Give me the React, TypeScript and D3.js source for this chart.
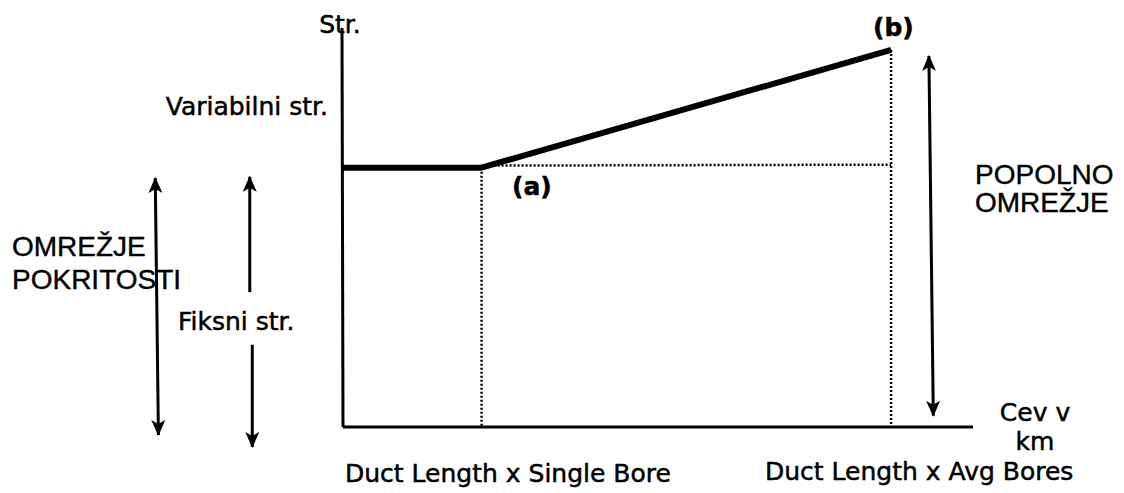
import React from 'react';
import * as d3 from 'd3';

const W = 1124;
const H = 493;

// cost curve: cable length (arbitrary units, 0-100) vs cost (0-100)
const curveX = [0, 22, 87];
const curveY = [65, 65, 94.5];
const fixedCost = 65;

// reference points on the length axis
const refX = [22, 87];
const refLabels = ['Duct Length x Single Bore', 'Duct Length x Avg Bores'];
const pointLabels = ['(a)', '(b)'];

// double arrows (annotations) in data units: x top, x bottom, y top, y bottom
const arrowXTop = [-29.8, -14.8, 93];
const arrowXBottom = [-29.3, -14.4, 93.7];
const arrowYTop = [62.4, 62.7, 93];
const arrowYBottom = [-2, -5, 2.8];
// gap in the "Fiksni" arrow where its label sits
const fixedGap = [33.8, 20.6];

const sans = 'DejaVu Sans, Verdana, sans-serif';
const arial = 'Liberation Sans, Arial, sans-serif';

export default function App() {
  const x = d3.scaleLinear().domain([0, 100]).range([343, 973]);
  const y = d3.scaleLinear().domain([0, 100]).range([427, 28]);

  const line = d3.line<number>()
    .x((d, i) => x(curveX[i]))
    .y(d => y(d));

  return (
    <svg width={W} height={H} style={{ position: 'absolute', left: 0, top: 0, background: '#fff' }}>
      <defs>
        <marker id="ah" viewBox="0 0 16 14" refX="15" refY="7" markerWidth="16" markerHeight="14"
          markerUnits="userSpaceOnUse" orient="auto-start-reverse">
          <path d="M0,0 L16,7 L0,14 L4,7 Z" fill="#000" />
        </marker>
      </defs>

      {/* axes */}
      <line x1={x(0) - 1} y1={y(100)} x2={x(0)} y2={y(0)} stroke="#000" strokeWidth={3} />
      <line x1={x(0)} y1={y(0)} x2={x(100)} y2={y(0)} stroke="#000" strokeWidth={3} />

      {/* dotted guides */}
      {refX.map((v, i) => (
        <line key={'v' + i} x1={x(v)} x2={x(v)} y1={y(curveY[i + 1])} y2={y(0)}
          stroke="#000" strokeWidth={2.5} strokeDasharray="2 2" />
      ))}
      <line x1={x(refX[0])} x2={x(refX[1])} y1={y(fixedCost) - 2} y2={y(fixedCost) - 3}
        stroke="#000" strokeWidth={2.5} strokeDasharray="2 2" />

      {/* cost curve */}
      <path d={line(curveY) || ''} fill="none" stroke="#000" strokeWidth={6} strokeLinejoin="round" />

      {/* double arrows */}
      <line x1={x(arrowXTop[0])} y1={y(arrowYTop[0])} x2={x(arrowXBottom[0])} y2={y(arrowYBottom[0])}
        stroke="#000" strokeWidth={3} markerStart="url(#ah)" markerEnd="url(#ah)" />
      <line x1={x(arrowXTop[1])} y1={y(arrowYTop[1])} x2={x(arrowXTop[1])} y2={y(fixedGap[0])}
        stroke="#000" strokeWidth={3} markerStart="url(#ah)" />
      <line x1={x(arrowXBottom[1])} y1={y(fixedGap[1])} x2={x(arrowXBottom[1])} y2={y(arrowYBottom[1])}
        stroke="#000" strokeWidth={3} markerEnd="url(#ah)" />
      <line x1={x(arrowXTop[2])} y1={y(arrowYTop[2])} x2={x(arrowXBottom[2])} y2={y(arrowYBottom[2])}
        stroke="#000" strokeWidth={3} markerStart="url(#ah)" markerEnd="url(#ah)" />

      {/* labels */}
      <g fontFamily={sans} fontSize={25} fill="#000" stroke="#000" strokeWidth={0.5}>
        <text x={340} y={33} textAnchor="middle">Str.</text>
        <text x={328} y={115} textAnchor="end">Variabilni str.</text>
        <text x={178} y={330}>Fiksni str.</text>
        <text x={1035} y={421} textAnchor="middle">Cev v</text>
        <text x={1035} y={450} textAnchor="middle">km</text>
        <text x={345} y={482}>{refLabels[0]}</text>
        <text x={765} y={480}>{refLabels[1]}</text>
        <text x={512} y={195} fontWeight="bold">{pointLabels[0]}</text>
        <text x={873} y={36} fontWeight="bold">{pointLabels[1]}</text>
      </g>
      <g fontFamily={arial} fontSize={28} fill="#000" stroke="#000" strokeWidth={0.4}>
        <text x={12} y={256}>OMREŽJE</text>
        <text x={12} y={289}>POKRITOSTI</text>
        <text x={975} y={184}>POPOLNO</text>
        <text x={975} y={212}>OMREŽJE</text>
      </g>
    </svg>
  );
}
